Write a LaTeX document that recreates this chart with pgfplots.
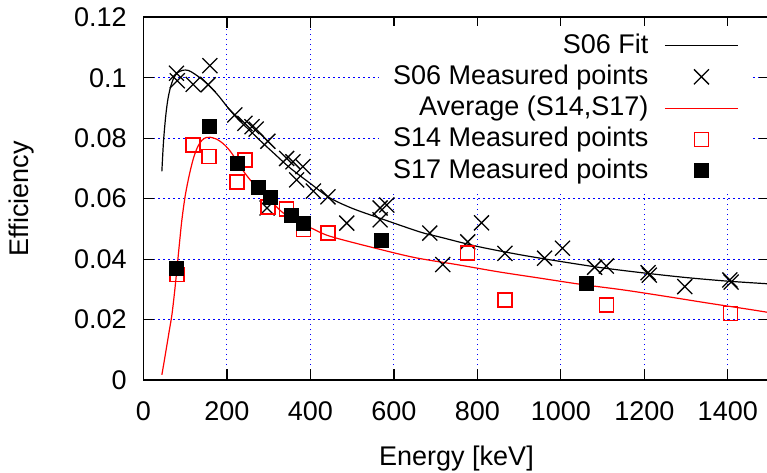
\documentclass[border=0pt]{standalone}
\usepackage{fontspec}
\setmainfont{Liberation Sans}
\usepackage{pgfplots}
\pgfplotsset{compat=1.18}
\usetikzlibrary{calc}

\pgfplotsset{
 linelegend/.style={legend image code/.code={\draw[##1] (0bp,0bp) -- (36.5bp,0bp);}},
 marklegend/.style={legend image code/.code={\path[draw=none,fill=none] (0bp,0bp) -- (36.5bp,0bp);\draw[##1] plot coordinates {(18.25bp,0bp)};}},
}

\begin{document}
\begin{tikzpicture}
\begin{axis}[
 scale only axis, width=313bp, height=181.35bp,
 xmin=0, xmax=1500, ymin=0, ymax=0.12,
 xtick={0,200,400,600,800,1000,1200,1400},
 ytick={0,0.02,0.04,0.06,0.08,0.1,0.12},
 scaled y ticks=false,
 /pgf/number format/assume math mode=true,
 /pgf/number format/1000 sep={},
 yticklabel style={/pgf/number format/fixed,/pgf/number format/precision=2,inner sep=0pt,xshift=-8.25bp},
 xticklabel style={inner sep=0pt,yshift=-10.5bp},
 font=\fontsize{13.5bp}{16bp}\selectfont,
 axis line style={line width=0.8bp},
 tick style={black,line width=0.6bp},
 major tick length=5.5bp,
 tick align=inside,
 grid=major,
 grid style={blue,line width=0.5bp,dash pattern=on 0.6bp off 1.9bp},
 xlabel={Energy [keV]}, ylabel={Efficiency},
 every axis x label/.style={at={($(axis description cs:0.5,0)+(0,-42.5bp)$)},anchor=base},
 every axis y label/.style={at={($(axis description cs:0,0.5)+(-61bp,0)$)},anchor=center,rotate=90},
 legend cell align=right, legend plot pos=right,
 legend style={at={(0.9736,0.977)},anchor=north east,draw=none,fill=white,
  inner xsep=7bp,inner ysep=3bp,row sep=2.15bp,column sep=8bp,
  nodes={inner sep=0pt,text height=10.5bp,text depth=3bp},
  font=\fontsize{13.5bp}{16bp}\selectfont},
]
\coordinate (sw) at (rel axis cs:0,0);
\coordinate (ne) at (rel axis cs:1,1);

% S06 fit
\addplot[black,line width=0.6bp,smooth,linelegend] coordinates {
 (44,0.069) (48,0.079) (53,0.087) (58,0.0925) (64,0.0965) (72,0.0998) (82,0.1017)
 (95,0.1025) (108,0.1024) (122,0.1013) (140,0.0995) (160,0.0970) (180,0.0940)
 (200,0.0905) (225,0.0865) (255,0.0825) (285,0.0785) (311,0.0752) (350,0.0703)
 (400,0.0650) (446,0.0603) (500,0.0568) (567,0.0535) (662,0.0490) (710,0.0473)
 (800,0.0442) (900,0.0415) (1000,0.0392) (1100,0.0371) (1200,0.0354) (1300,0.0339)
 (1400,0.0327) (1500,0.0318)};
\addlegendentry{S06 Fit}

% S06 measured
\addplot[only marks,black,mark=x,mark size=5.3bp,mark options={line width=0.65bp},marklegend] coordinates {
 (79,0.1015) (81,0.0990) (119,0.0978) (155,0.0977) (159,0.1040) (219,0.0877)
 (243,0.0849) (260,0.0838) (270,0.0830) (298,0.0790) (343,0.0733) (358,0.0722)
 (382,0.0706) (367,0.0662) (407,0.0625) (442,0.0606) (296,0.0569) (487,0.0519)
 (567,0.0569) (583,0.0579) (567,0.0530) (686,0.0486) (717,0.0382) (777,0.0457)
 (810,0.0520) (866,0.0419) (961,0.0403) (1004,0.0436) (1081,0.0373) (1109,0.0377)
 (1209,0.0355) (1212,0.0347) (1297,0.0309) (1405,0.0331) (1408,0.0324)};
\addlegendentry{S06 Measured points}

% average S14, S17
\addplot[red,line width=0.6bp,smooth,linelegend] coordinates {
 (44,0.0017) (50,0.0065) (56,0.0115) (62,0.0165) (68,0.0215) (74,0.0285) (80,0.0365)
 (86,0.0450) (92,0.0530) (100,0.0610) (110,0.0680) (120,0.0735) (130,0.0772)
 (140,0.0793) (150,0.0802) (160,0.0803) (175,0.0797) (190,0.0783) (205,0.0762)
 (220,0.0733) (240,0.0690) (260,0.0655) (280,0.0628) (300,0.0600) (330,0.0558)
 (360,0.0530) (400,0.0504) (446,0.0476) (550,0.0438) (650,0.0405) (750,0.0382)
 (850,0.0358) (950,0.0337) (1050,0.0316) (1150,0.0298) (1250,0.0277) (1350,0.0255)
 (1450,0.0234) (1500,0.0223)};
\addlegendentry{Average (S14,S17)}

% S14 measured
\addplot[only marks,red,mark=square,mark size=3.5bp,mark options={line width=0.7bp},marklegend] coordinates {
 (80,0.0350) (119,0.0778) (157,0.0740) (224,0.0655) (243,0.0728) (298,0.0573)
 (343,0.0566) (383,0.0498) (442,0.0486) (777,0.0420) (866,0.0265) (1109,0.0248)
 (1406,0.0221)};
\addlegendentry{S14 Measured points}

% S17 measured
\addplot[only marks,black,mark=square*,mark size=3.5bp,mark options={fill=black,line width=0.4bp},marklegend] coordinates {
 (80,0.0370) (159,0.0840) (224,0.0718) (275,0.0636) (303,0.0605) (355,0.0546)
 (383,0.0519) (570,0.0463) (1061,0.0318)};
\addlegendentry{S17 Measured points}
\end{axis}
\pgfresetboundingbox
\path[use as bounding box] ($(sw)+(-71.75bp,-46.5bp)$) rectangle ($(ne)+(-1.25bp,8.65bp)$);
\end{tikzpicture}
\end{document}
